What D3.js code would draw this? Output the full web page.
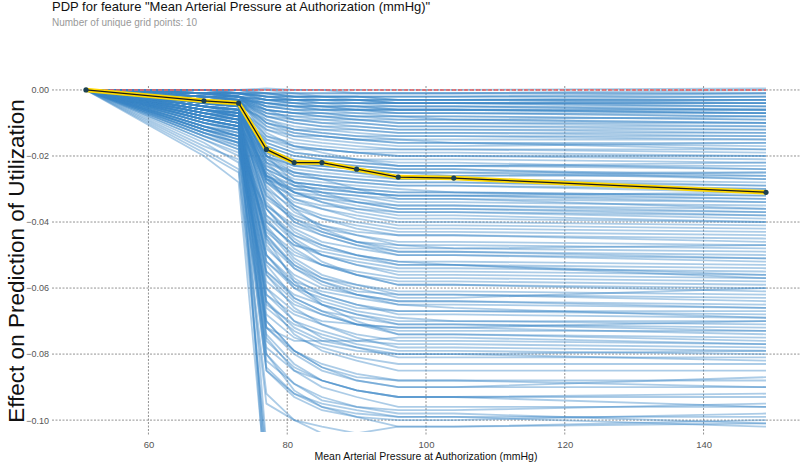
<!DOCTYPE html>
<html>
<head>
<meta charset="utf-8">
<script src="https://cdn.jsdelivr.net/npm/d3@7"></script>
<style>
  body { margin: 0; background: #fff; }
  svg { display: block; font-family: "Liberation Sans", Arial, sans-serif; }
</style>
</head>
<body>
<script>
const w = 800
const h = 462

// grid points of the feature
const gridX = [51, 68, 73, 77, 81, 85, 90, 96, 104, 149]
// PDP average line
const pdpY = [0, -0.0033, -0.004, -0.018, -0.022, -0.022, -0.024, -0.0264, -0.0267, -0.031]
const xTicks = [60, 80, 100, 120, 140]
const yTicks = [0, -0.02, -0.04, -0.06, -0.08, -0.10]

// individual ICE curves, values in 1e-3 units, one per row
const ice = [
  [0,0,0,-1,-1,-1,-1,-1,-1,0],
  [0,-1,-1,-2,-2,-2,-2,-3,-3,-3],
  [0,0,-1,-1,-2,-2,-2,-2,-2,-1],
  [0,-1,-2,-3,-3,-4,-4,-4,-4,-5],
  [0,-2,-2,-4,-5,-5,-5,-6,-6,-6],
  [0,-1,-1,-2,-3,-3,-4,-4,-4,-4],
  [0,-2,-3,-5,-6,-6,-7,-7,-7,-8],
  [0,0,0,0,0,0,-1,-1,-1,-1],
  [0,-1,-2,-5,-6,-7,-7,-8,-8,-9],
  [0,-3,-4,-6,-7,-7,-8,-8,-8,-9],
  [0,-1,-1,-3,-4,-4,-5,-5,-5,-5],
  [0,0,-1,-2,-2,-3,-3,-3,-3,-4],
  [0,-2,-2,-6,-7,-8,-8,-9,-9,-10],
  [0,-1,-2,-3,-3,-3,-3,-4,-4,-3],
  [0,0,0,0.5,0,0,0,0,0,0.5],
  [0,-2,-3,-7,-8,-8,-9,-10,-10,-10],
  [0,-1,-1,-2,-2,-2,-3,-3,-3,-2],
  [0,-3,-4,-7,-8,-9,-9,-10,-10,-11],
  [0,-1,-2,-4,-5,-5,-6,-6,-6,-7],
  [0,0,-1,-3,-4,-4,-4,-5,-5,-6],
  [0,-2,-2,-5,-6,-6,-6,-7,-7,-7],
  [0,-1,-1,-1,-1,-2,-2,-2,-2,-2],
  [0,-2,-3,-6,-7,-7,-8,-8,-9,-8],
  [0,-1,-2,-4,-4,-5,-5,-5,-5,-6],
  [0,0,0,-2,-3,-3,-3,-4,-4,-4],
  [0,-3,-4,-8,-9,-9,-10,-11,-11,-11],
  [0,-1,-1,-3,-3,-3,-3,-3,-3,-3],
  [0,-2,-2,-5,-5,-6,-6,-6,-6,-6],
  [0,-1,-1,-2,-3,-3,-3,-4,-4,-5],
  [0,0,0,-1,-2,-2,-2,-2,-2,-2],
  [0,-1,0,0,-1,-1,-1,-1,-1,-1],
  [0,-2,-2,-3,-3,-4,-4,-4,-4,-4],
  [0,-1,-2,-3,-4,-5,-5,-6,-6,-7],
  [0,-3,-3,-6,-7,-8,-9,-9,-9,-10],
  [0,-1,-1,-1,-2,-2,-2,-3,-3,-3],
  [0,-2,-3,-4,-5,-6,-6,-7,-7,-8],
  [0,-3,-3,-4,-5,-5,-6,-6,-6,-7],
  [0,-1,-2,-7,-9,-10,-10,-11,-11,-12],
  [0,-2,-2,-10,-12,-13,-14,-14,-14,-14],
  [0,-2,-3,-8,-10,-11,-11,-12,-12,-12],
  [0,-4,-5,-9,-11,-12,-12,-13,-13,-13],
  [0,-1,-2,-9,-12,-13,-14,-15,-15,-15],
  [0,-3,-4,-11,-13,-14,-15,-15,-16,-16],
  [0,-5,-6,-12,-15,-16,-17,-18,-18,-18],
  [0,-2,-3,-14,-17,-18,-19,-19,-19,-20],
  [0,-4,-5,-16,-19,-20,-21,-21,-21,-22],
  [0,-6,-8,-17,-20,-21,-22,-23,-23,-24],
  [0,-3,-4,-18,-22,-23,-24,-25,-25,-25],
  [0,-5,-6,-20,-23,-24,-25,-26,-26,-26],
  [0,-7,-8,-21,-25,-26,-27,-28,-28,-29],
  [0,-2,-3,-22,-26,-27,-28,-29,-29,-30],
  [0,-4,-5,-24,-28,-29,-30,-31,-31,-32],
  [0,-6,-7,-26,-29,-30,-31,-32,-32,-33],
  [0,-8,-10,-27,-30,-31,-32,-33,-33,-34],
  [0,-3,-4,-22,-29,-32,-34,-35,-35,-36],
  [0,-5,-6,-20,-28,-31,-34,-36,-36,-37],
  [0,-7,-9,-26,-31,-34,-36,-37,-37,-38],
  [0,-4,-5,-24,-31,-34,-37,-39,-39,-40],
  [0,-9,-11,-28,-34,-36,-38,-40,-40,-41],
  [0,-6,-7,-25,-33,-36,-39,-41,-41,-42],
  [0,-3,-4,-30,-36,-39,-41,-43,-43,-44],
  [0,-8,-9,-27,-35,-39,-42,-44,-44,-46],
  [0,-5,-6,-33,-39,-42,-44,-46,-46,-47],
  [0,-10,-12,-29,-37,-41,-44,-47,-47,-48],
  [0,-7,-8,-35,-41,-44,-47,-49,-49,-50],
  [0,-4,-5,-31,-40,-44,-47,-50,-50,-51],
  [0,-11,-13,-38,-44,-47,-50,-52,-52,-53],
  [0,-6,-8,-34,-43,-47,-50,-53,-53,-54],
  [0,-9,-11,-40,-47,-50,-53,-55,-55,-56],
  [0,-5,-7,-36,-45,-50,-53,-56,-56,-57],
  [0,-12,-14,-43,-50,-53,-56,-58,-58,-59],
  [0,-7,-9,-39,-48,-53,-56,-59,-59,-60],
  [0,-4,-6,-45,-53,-57,-59,-61,-61,-62],
  [0,-10,-12,-41,-51,-56,-59,-62,-62,-63],
  [0,-6,-8,-48,-56,-60,-62,-64,-64,-65],
  [0,-13,-16,-44,-54,-59,-62,-65,-65,-66],
  [0,-8,-10,-52,-59,-62,-65,-67,-67,-67],
  [0,-5,-7,-47,-57,-62,-65,-68,-68,-69],
  [0,-11,-14,-55,-62,-65,-68,-70,-70,-70],
  [0,-7,-9,-50,-60,-65,-68,-71,-71,-72],
  [0,-14,-17,-58,-65,-68,-71,-73,-73,-73],
  [0,-9,-11,-53,-63,-67,-71,-74,-74,-75],
  [0,-6,-8,-62,-68,-71,-74,-76,-76,-77],
  [0,-12,-15,-56,-66,-71,-75,-78,-78,-79],
  [0,-8,-10,-65,-71,-74,-77,-79,-79,-80],
  [0,-15,-19,-60,-70,-75,-78,-81,-81,-81],
  [0,-10,-12,-68,-75,-78,-81,-83,-83,-83],
  [0,-6,-8,-64,-74,-79,-82,-85,-85,-85],
  [0,-13,-16,-72,-79,-83,-86,-88,-88,-88],
  [0,-9,-11,-70,-79,-84,-88,-90,-90,-90],
  [0,-17,-21,-78,-85,-88,-91,-93,-93,-93],
  [0,-7,-9,-75,-85,-90,-93,-96,-96,-96],
  [0,-14,-18,-85,-92,-95,-97,-99,-99,-99],
  [0,-11,-14,-80,-91,-96,-99,-102,-102,-101],
  [0,-19,-25,-95,-100,-102,-104,-105,-105,-105],
  [0,-3,-4,-10,-12,-12,-13,-14,-14,-15],
  [0,-2,-3,-12,-14,-14,-15,-16,-16,-17],
  [0,-4,-5,-14,-16,-17,-18,-18,-18,-19],
  [0,-3,-4,-15,-18,-18,-19,-20,-20,-21],
  [0,-5,-6,-16,-19,-20,-21,-22,-22,-24],
  [0,-2,-3,-10,-13,-14,-15,-16,-16,-18],
  [0,-6,-7,-18,-21,-22,-23,-24,-24,-26],
  [0,-4,-4,-17,-20,-21,-22,-23,-23,-23],
  [0,-3,-4,-19,-23,-23,-24,-25,-25,-27],
  [0,-5,-6,-20,-24,-25,-26,-27,-27,-28],
  [0,-7,-9,-22,-25,-26,-27,-28,-28,-30],
  [0,-4,-5,-21,-26,-27,-28,-29,-29,-31],
  [0,-3,-4,-23,-27,-28,-29,-30,-31,-32],
  [0,-8,-10,-24,-28,-29,-30,-31,-31,-33],
  [0,-5,-6,-25,-29,-30,-31,-32,-32,-34],
  [0,-4,-5,-26,-30,-31,-32,-34,-34,-35],
  [0,-6,-7,-27,-31,-32,-33,-35,-35,-37],
  [0,-9,-11,-28,-32,-33,-34,-36,-36,-38],
  [0,-3,-4,-20,-25,-27,-30,-33,-33,-36],
  [0,-5,-6,-26,-31,-33,-35,-37,-37,-39],
  [0,-2,-2,-8,-10,-11,-12,-13,-13,-14],
  [0,-6,-7,-15,-17,-18,-19,-20,-20,-20],
  [0,-3,-3,-11,-14,-15,-16,-17,-17,-16],
  [0,-4,-5,-18,-22,-23,-24,-25,-26,-25],
  [0,-2,-3,-13,-17,-19,-21,-23,-23,-22],
  [0,-7,-8,-19,-22,-22,-23,-24,-24,-27],
  [0,-1,-2,-6,-9,-10,-11,-12,-12,-13],
  [0,-5,-6,-23,-28,-29,-31,-32,-32,-31],
  [0,-4,-5,-27,-33,-35,-36,-38,-38,-40],
  [0,-8,-9,-20,-23,-24,-25,-27,-27,-29],
  [0,-5,-6,-28,-35,-38,-40,-42,-42,-43],
  [0,-9,-11,-32,-38,-41,-43,-44,-44,-45],
  [0,-6,-7,-30,-39,-43,-46,-47,-48,-49],
  [0,-10,-12,-35,-42,-46,-48,-50,-50,-52],
  [0,-4,-5,-26,-36,-42,-46,-49,-49,-51],
  [0,-7,-9,-38,-46,-50,-52,-54,-54,-55],
  [0,-12,-15,-42,-49,-53,-55,-57,-57,-58],
  [0,-6,-8,-36,-46,-52,-56,-59,-59,-61],
  [0,-8,-10,-46,-54,-58,-61,-62,-62,-64],
  [0,-11,-13,-44,-53,-58,-62,-64,-64,-66],
  [0,-5,-6,-52,-60,-63,-66,-67,-67,-68],
  [0,-13,-16,-50,-59,-64,-67,-69,-70,-71],
  [0,-9,-11,-56,-64,-68,-71,-72,-72,-74],
  [0,-7,-9,-45,-58,-65,-70,-74,-74,-76],
  [0,-14,-18,-62,-70,-73,-76,-77,-77,-78],
  [0,-6,-8,-32,-40,-43,-46,-48,-48,-47],
  [0,-10,-12,-40,-47,-49,-51,-53,-53,-56],
  [0,-5,-7,-55,-63,-67,-69,-71,-71,-73],
  [0,-8,-10,-66,-73,-77,-79,-80,-80,-79],
  [0,-12,-14,-42,-52,-57,-60,-63,-63,-60],
  [0,-6,-7,-60,-67,-70,-71,-72,-72,-70],
  [0,-9,-12,-50,-58,-61,-63,-65,-66,-69],
  [0,-15,-20,-36,-44,-48,-50,-52,-53,-57],
  [0,-4,-5,-72,-76,-76,-76,-75,-75,-77],
  [0,-11,-14,-64,-72,-76,-78,-80,-80,-82],
  [0,-8,-10,-72,-80,-85,-88,-90,-90,-87],
  [0,-13,-17,-85,-93,-97,-99,-100,-100,-98],
  [0,-6,-8,-118,-112,-108,-104,-102,-102,-100],
  [0,-10,-13,-76,-84,-88,-91,-93,-93,-92],
  [0,-16,-22,-92,-100,-104,-106,-107,-107,-106],
  [0,-7,-9,-70,-79,-84,-87,-88,-88,-90],
  [0,-12,-15,-82,-89,-93,-96,-97,-97,-95],
  [0,-9,-11,-80,-89,-94,-96,-98,-98,-101],
  [0,-18,-24,-110,-112,-112,-112,-112,-112,-113],
  [0,-5,-6,-125,-120,-116,-112,-110,-110,-108],
  [0,-11,-14,-74,-83,-88,-91,-93,-93,-96],
  [0,-20,-28,-120,-118,-116,-114,-112,-112,-110],
  [0,-8,-10,-84,-92,-96,-98,-99,-99,-102],
  [0,-3,-4,-108,-114,-116,-118,-120,-120,-122],
  [0,-12,-16,-115,-118,-120,-121,-122,-122,-125]
]

const svg = d3.select('body').append('svg').attr('width', w).attr('height', h)

const x = d3.scaleLinear().domain([51, 149]).range([86, 766])
const y = d3.scaleLinear().domain([-0.1036, 0.0012]).range([432, 86])

svg.append('text').attr('x', 52).attr('y', 11).attr('font-size', 13).attr('fill', '#111')
  .text('PDP for feature "Mean Arterial Pressure at Authorization (mmHg)"')
svg.append('text').attr('x', 52).attr('y', 26).attr('font-size', 10).attr('fill', '#999')
  .text('Number of unique grid points: 10')

// grid
const grid = svg.append('g').attr('stroke', '#777').attr('stroke-width', 0.8).attr('stroke-dasharray', '2,1.5')
grid.selectAll('.hy').data(yTicks).enter().append('line')
  .attr('x1', 52).attr('x2', w).attr('y1', d => y(d)).attr('y2', d => y(d))
grid.selectAll('.vx').data(xTicks).enter().append('line')
  .attr('x1', d => x(d)).attr('x2', d => x(d)).attr('y1', 86).attr('y2', 436)

const yAxis = d3.axisLeft(y).tickValues(yTicks).tickFormat(d3.format('.2f')).tickSize(0).tickPadding(3)
svg.append('g').attr('transform', 'translate(52,0)').call(yAxis)
  .call(g => g.select('.domain').remove())
  .selectAll('text').attr('font-size', 9).attr('fill', '#555').attr('font-family', 'Liberation Sans, Arial, sans-serif')
  .text(d => d3.format('.2f')(d).replace('-', '\u2212'))

const xAxis = d3.axisBottom(x).tickValues(xTicks).tickSize(0).tickPadding(4)
svg.append('g').attr('transform', 'translate(0,437)').call(xAxis)
  .call(g => g.select('.domain').remove())
  .selectAll('text').attr('font-size', 9.5).attr('fill', '#555').attr('font-family', 'Liberation Sans, Arial, sans-serif')

// ICE lines
svg.append('clipPath').attr('id', 'clip').append('rect')
  .attr('x', 80).attr('y', 84).attr('width', 690).attr('height', 348)
const line = d3.line().x((d, i) => x(gridX[i])).y(d => y(d))
svg.append('g').attr('clip-path', 'url(#clip)')
  .selectAll('path').data(ice).enter().append('path')
  .attr('d', d => line(d.map(v => v / 1000)))
  .attr('fill', 'none').attr('stroke', '#3a86c6').attr('stroke-width', 1.8).attr('stroke-opacity', 0.42)

// zero reference line
svg.append('line').attr('x1', x(51)).attr('x2', x(149)).attr('y1', y(0)).attr('y2', y(0))
  .attr('stroke', '#ec6060').attr('stroke-width', 1.5).attr('stroke-dasharray', '4,2')

// PDP
svg.append('path').attr('d', line(pdpY)).attr('fill', 'none')
  .attr('stroke', '#ffd800').attr('stroke-width', 4.5)
svg.append('path').attr('d', line(pdpY)).attr('fill', 'none')
  .attr('stroke', '#1a1a1a').attr('stroke-width', 1.3)
svg.selectAll('.pt').data(pdpY).enter().append('circle')
  .attr('cx', (d, i) => x(gridX[i])).attr('cy', d => y(d)).attr('r', 2.6)
  .attr('fill', '#1d4150')

svg.append('text').attr('x', 426).attr('y', 460).attr('text-anchor', 'middle')
  .attr('font-size', 10.5).attr('fill', '#111')
  .text('Mean Arterial Pressure at Authorization (mmHg)')
svg.append('text').attr('transform', 'translate(24,261) rotate(-90)').attr('text-anchor', 'middle')
  .attr('font-size', 22.5).attr('fill', '#111')
  .text('Effect on Prediction of Utilization')
</script>
</body>
</html>
